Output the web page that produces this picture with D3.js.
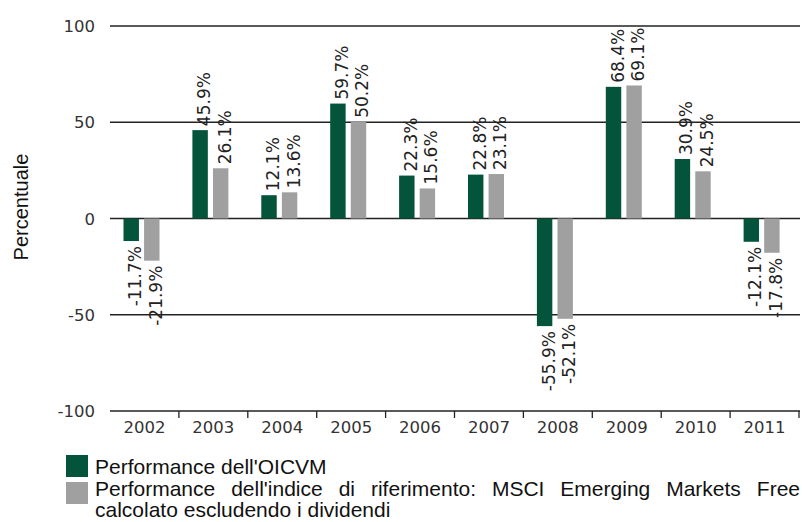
<!DOCTYPE html>
<html>
<head>
<meta charset="utf-8">
<script src="https://cdn.jsdelivr.net/npm/d3@7"></script>
<style>
  body { margin: 0; background: #fff; }
  svg { display: block; }
  .tick-lbl { font-family: "DejaVu Sans", sans-serif; font-size: 16.5px; fill: #333; }
  .val-lbl { font-family: "DejaVu Sans", sans-serif; font-size: 17px; fill: #222; }
  .legend-txt { font-family: "Liberation Sans", Arial, sans-serif; font-size: 21px; fill: #111; }
</style>
</head>
<body>
<script>
// data
var years = ["2002", "2003", "2004", "2005", "2006", "2007", "2008", "2009", "2010", "2011"];
var fundPerf = [-11.7, 45.9, 12.1, 59.7, 22.3, 22.8, -55.9, 68.4, 30.9, -12.1];
var indexPerf = [-21.9, 26.1, 13.6, 50.2, 15.6, 23.1, -52.1, 69.1, 24.5, -17.8];
var yTicks = [-100, -50, 0, 50, 100];
var seriesNames = ["Performance dell'OICVM",
  "Performance dell'indice di riferimento: MSCI Emerging Markets Free calcolato escludendo i dividendi"];
var seriesColors = ["#04533b", "#a0a0a0"];

var W = 802, H = 522;
var svg = d3.select("body").append("svg")
    .attr("width", W)
    .attr("height", H);

var x = d3.scaleBand().domain(years).range([110, 799]);
var x1 = d3.scaleBand().domain([0, 1]).range([13.5, 49.5]).paddingInner(0.25);
var y = d3.scaleLinear().domain([-100, 100]).range([411, 26]);

// grid lines
svg.append("g").selectAll("line")
    .data(yTicks.filter(function(d) { return d > -100; }))
  .enter().append("line")
    .attr("x1", 110).attr("x2", 800)
    .attr("y1", function(d) { return y(d); })
    .attr("y2", function(d) { return y(d); })
    .attr("stroke", "#222")
    .attr("stroke-width", 1.3);

// y tick labels
svg.append("g").selectAll("text")
    .data(yTicks)
  .enter().append("text")
    .attr("class", "tick-lbl")
    .attr("x", 95)
    .attr("y", function(d) { return y(d) + 6; })
    .attr("text-anchor", "end")
    .text(function(d) { return d; });

// y axis title
svg.append("text")
    .attr("transform", "translate(28,207) rotate(-90)")
    .attr("text-anchor", "middle")
    .style("font-family", "Liberation Sans, Arial, sans-serif")
    .style("font-size", "20px")
    .style("fill", "#111")
    .text("Percentuale");

// bars
var groups = svg.append("g").selectAll("g")
    .data(years.map(function(yr, i) { return {year: yr, vals: [fundPerf[i], indexPerf[i]]}; }))
  .enter().append("g")
    .attr("transform", function(d) { return "translate(" + x(d.year) + ",0)"; });

groups.selectAll("rect")
    .data(function(d) { return d.vals; })
  .enter().append("rect")
    .attr("x", function(d, i) { return x1(i); })
    .attr("width", x1.bandwidth())
    .attr("y", function(d) { return y(Math.max(0, d)); })
    .attr("height", function(d) { return Math.abs(y(d) - y(0)); })
    .attr("fill", function(d, i) { return seriesColors[i]; });

groups.selectAll("text")
    .data(function(d) { return d.vals; })
  .enter().append("text")
    .attr("class", "val-lbl")
    .attr("text-anchor", function(d) { return d >= 0 ? "start" : "end"; })
    .attr("transform", function(d, i) {
      var cx = x1(i) + x1.bandwidth() / 2 + 10;
      var cy = d >= 0 ? y(d) - 4 : y(d) + 5;
      return "translate(" + cx + "," + cy + ") rotate(-90)";
    })
    .text(function(d) { return d.toFixed(1) + "%"; });

// x axis
var xAxis = svg.append("g");
xAxis.append("line")
    .attr("x1", 110).attr("x2", 800)
    .attr("y1", y(-100)).attr("y2", y(-100))
    .attr("stroke", "#222").attr("stroke-width", 1.3);
xAxis.selectAll("line.tk")
    .data(years)
  .enter().append("line")
    .attr("class", "tk")
    .attr("x1", function(d) { return x(d) + x.bandwidth(); })
    .attr("x2", function(d) { return x(d) + x.bandwidth(); })
    .attr("y1", y(-100)).attr("y2", y(-100) + 7)
    .attr("stroke", "#222").attr("stroke-width", 1.3);
xAxis.selectAll("text")
    .data(years)
  .enter().append("text")
    .attr("class", "tick-lbl")
    .attr("x", function(d) { return x(d) + x.bandwidth() / 2; })
    .attr("y", 433)
    .attr("text-anchor", "middle")
    .text(function(d) { return d; });

// legend
var leg = svg.append("g");
leg.append("rect").attr("x", 66).attr("y", 455).attr("width", 22).attr("height", 22).attr("fill", seriesColors[0]);
leg.append("rect").attr("x", 66).attr("y", 482).attr("width", 22).attr("height", 22).attr("fill", seriesColors[1]);
leg.append("text").attr("class", "legend-txt").attr("x", 95).attr("y", 474).text(seriesNames[0]);

// second entry: first line justified to the right edge, second line left
var words = seriesNames[1].split(" ");
var line1 = words.slice(0, 8), line2 = words.slice(8);
var x0 = 95, x1end = 800;
var tmp = line1.map(function(w) {
  return leg.append("text").attr("class", "legend-txt").attr("y", 496).text(w);
});
var widths = tmp.map(function(t) { return t.node().getComputedTextLength(); });
var gap = (x1end - x0 - d3.sum(widths)) / (line1.length - 1);
var cur = x0;
tmp.forEach(function(t, i) { t.attr("x", cur); cur += widths[i] + gap; });
leg.append("text").attr("class", "legend-txt").attr("x", 95).attr("y", 517).text(line2.join(" "));
</script>
</body>
</html>
